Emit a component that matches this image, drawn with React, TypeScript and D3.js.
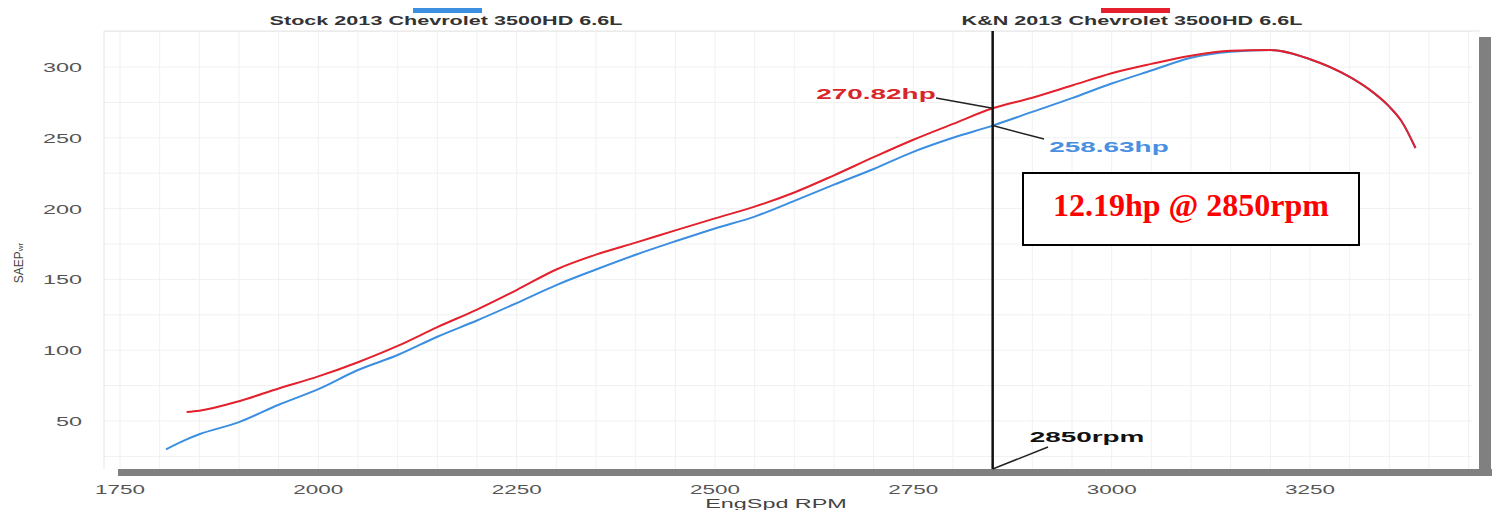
import * as d3 from 'd3'

// dyno run, 50 rpm steps
const rpm = [1808, 1834, 1850, 1900, 1950, 2000, 2050, 2100, 2150, 2200, 2250, 2300, 2350, 2400, 2450, 2500, 2550, 2600, 2650, 2700, 2750, 2800, 2850, 2900, 2950, 3000, 3050, 3100, 3150, 3200, 3250, 3300, 3325, 3350, 3365, 3383]
const stockHp = [30, 37, 40.6, 49.2, 61.5, 72.5, 86, 96.6, 109.5, 121, 133.3, 146, 157, 167.4, 176.9, 186, 194.3, 205.5, 216.9, 228, 240.1, 250, 258.63, 268.3, 278, 288.3, 297.5, 306.5, 310.8, 312, 305.5, 293, 284, 272, 262, 242.8]
const knHp = [null, 56.4, 57.3, 64, 73, 81.5, 91.5, 103, 116.3, 128.7, 142.5, 157, 167.5, 176, 184.6, 193.1, 201.4, 211.4, 223.5, 236.3, 248.6, 259.8, 270.82, 278.3, 286.9, 295.6, 302.2, 308, 311.4, 312, 305.5, 293, 284, 272, 262, 242.8]

const xTicks = [1750, 2000, 2250, 2500, 2750, 3000, 3250]
const yTicks = [50, 100, 150, 200, 250, 300]
const gridRpm = d3.range(1750, 3451, 50)

const seriesNames = ['Stock 2013 Chevrolet 3500HD 6.6L', 'K&N 2013 Chevrolet 3500HD 6.6L']
const markRpm = 2850
const markStock = 258.63
const markKn = 270.82
const gainText = '12.19hp @ 2850rpm'

const W = 1499
const H = 510
const STRETCH = 1.8
const SANS = 'Arial, "Liberation Sans", sans-serif'
const RED = '#e3202b'
const BLUE = '#3b8ee0'

type Pt = { r: number; hp: number }

function Wide(props: { x: number; y: number; size: number; bold?: boolean; fill: string; anchor?: string; children: string }) {
  const { x, y, size, bold, fill, anchor = 'middle', children } = props
  return (
    <text
      transform={`translate(${x},${y}) scale(${STRETCH},1)`}
      textAnchor={anchor}
      fontFamily={SANS}
      fontSize={size}
      fontWeight={bold ? 'bold' : 'normal'}
      fill={fill}
    >
      {children}
    </text>
  )
}

export default function App() {
  const x = d3.scaleLinear().domain([1750, 3250]).range([120, 1310])
  const y = d3.scaleLinear().domain([50, 300]).range([421, 67])

  const plotL = 104
  const plotR = 1472
  const plotT = 31
  const plotB = 469

  const stock: Pt[] = rpm.map((r, i) => ({ r, hp: stockHp[i] }))
  const kn: Pt[] = rpm
    .map((r, i) => ({ r, hp: knHp[i] as number }))
    .filter(d => d.hp != null)

  const line = d3.line<Pt>()
    .x(d => x(d.r))
    .y(d => y(d.hp))
    .curve(d3.curveMonotoneX)

  const mx = x(markRpm)
  const hGrid = d3.range(25, 326, 25).filter(v => y(v) > plotT && y(v) < plotB)

  return (
    <>
      <style>{'body{margin:0;background:#fff}'}</style>
      <svg width={W} height={H} style={{ display: 'block' }}>
        <rect width={W} height={H} fill="#fff" />

        {/* faint grid */}
        <g stroke="#f1f1f1" strokeWidth={1}>
          {gridRpm.map(r => (
            <line key={r} x1={x(r)} x2={x(r)} y1={plotT} y2={plotB} />
          ))}
          {hGrid.map(v => (
            <line key={v} x1={plotL} x2={plotR} y1={y(v)} y2={y(v)} />
          ))}
          <line x1={plotL} x2={plotL} y1={plotT} y2={plotB} stroke="#e4e4e4" />
          <line x1={plotL} x2={plotR + 8} y1={plotT} y2={plotT} stroke="#e4e4e4" />
        </g>

        {/* heavy frame bars */}
        <rect x={118} y={plotB} width={1374} height={7} fill="#808080" />
        <rect x={1479} y={37} width={12} height={plotB - 37 + 7} fill="#808080" />

        {/* y ticks */}
        {yTicks.map(v => (
          <Wide key={v} x={82} y={y(v) + 5} size={13} fill="#555" anchor="end">{String(v)}</Wide>
        ))}
        {/* x ticks */}
        {xTicks.map(v => (
          <Wide key={v} x={x(v)} y={494} size={12.5} fill="#555">{String(v)}</Wide>
        ))}

        <Wide x={776} y={508} size={13} fill="#444">EngSpd RPM</Wide>
        <text transform="translate(23,263) rotate(-90)" textAnchor="middle" fontFamily={SANS} fontSize={12} fill="#444">
          SAEP<tspan fontSize={8}>wr</tspan>
        </text>

        {/* legend */}
        <rect x={413} y={8} width={69} height={5} fill={BLUE} />
        <Wide x={446} y={25} size={12} bold fill="#333">{seriesNames[0]}</Wide>
        <rect x={1101} y={8} width={69} height={5} fill={RED} />
        <Wide x={1132} y={25} size={12} bold fill="#333">{seriesNames[1]}</Wide>

        {/* curves */}
        <path d={line(stock) ?? ''} fill="none" stroke={BLUE} strokeWidth={2} />
        <path d={line(kn) ?? ''} fill="none" stroke={RED} strokeWidth={2} />

        {/* cursor at 2850 rpm */}
        <line x1={mx} x2={mx} y1={plotT} y2={plotB} stroke="#111" strokeWidth={2.5} />

        <line x1={936} y1={98} x2={mx} y2={y(markKn)} stroke="#222" strokeWidth={1.5} />
        <Wide x={876} y={99} size={15.5} bold fill="#d8262b">{`${markKn}hp`}</Wide>

        <line x1={mx} y1={y(markStock)} x2={1044} y2={139} stroke="#222" strokeWidth={1.5} />
        <Wide x={1109} y={152} size={15.5} bold fill="#4a90e2">{`${markStock}hp`}</Wide>

        <line x1={mx} y1={plotB} x2={1048} y2={447} stroke="#222" strokeWidth={1.5} />
        <Wide x={1087} y={442} size={15.5} bold fill="#111">{`${markRpm}rpm`}</Wide>

        {/* gain box */}
        <rect x={1023} y={173} width={336} height={72} fill="#fff" stroke="#000" strokeWidth={2} />
        <text
          x={1191}
          y={216}
          textAnchor="middle"
          fontFamily={'"Liberation Serif", "Times New Roman", serif'}
          fontWeight="bold"
          fontSize={32}
          fill="#ff0000"
        >
          {gainText}
        </text>
      </svg>
    </>
  )
}
